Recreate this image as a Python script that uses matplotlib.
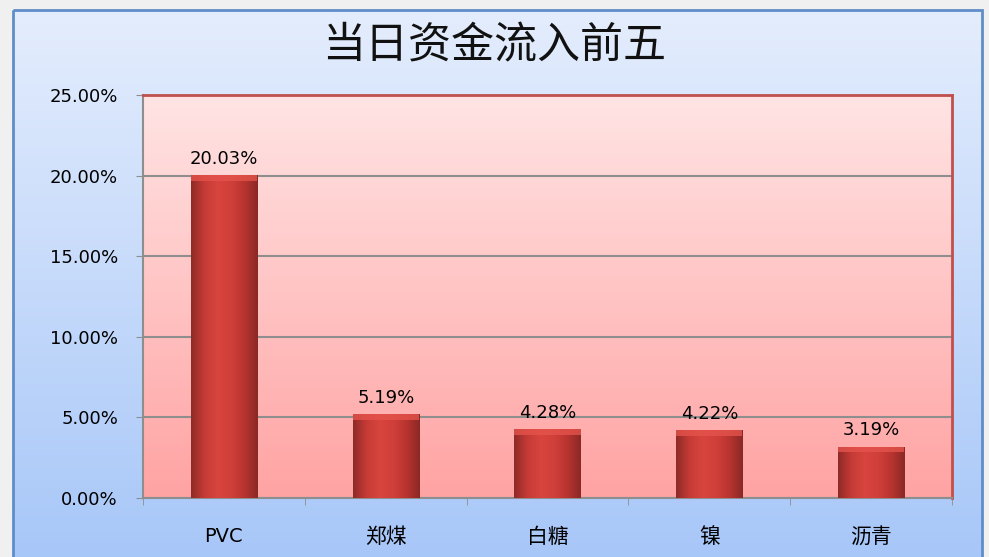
import matplotlib.pyplot as plt
import numpy as np
from matplotlib.colors import LinearSegmentedColormap
from matplotlib.patches import Rectangle

plt.rcParams['font.family'] = ['DejaVu Sans', 'Noto Sans CJK SC']

# data
categories = ['PVC', '郑煤', '白糖', '镍', '沥青']
values = [20.03, 5.19, 4.28, 4.22, 3.19]
yticks = [0, 5, 10, 15, 20, 25]
title = '当日资金流入前五'

fig = plt.figure(figsize=(9.89, 5.57), dpi=100)
fig.patch.set_facecolor('#f0f0f0')

# outer chart area with blue gradient
bg = fig.add_axes([0, 0, 1, 1], zorder=0)
bg.axis('off')
blue = LinearSegmentedColormap.from_list('blue', ['#e4edfd', '#a6c6f8'])
grad = np.linspace(0, 1, 256).reshape(-1, 1)
bg.imshow(grad, cmap=blue, extent=[13, 982, 570, 10], aspect='auto', zorder=1)
bg.add_patch(Rectangle((13, 10), 969, 560, fill=False, edgecolor='#5f8dc8', lw=2, zorder=2))
bg.set_xlim(0, 989)
bg.set_ylim(557, 0)

fig.text(0.5, 0.916, title, ha='center', va='center', fontsize=31,
         family=['Noto Sans CJK SC'], weight='medium', color='#111111')

ax = fig.add_axes([143 / 989, 1 - 498 / 557, 809 / 989, 403 / 557], zorder=2)
x = np.arange(len(categories))

pink = LinearSegmentedColormap.from_list('pink', ['#ffe4e4', '#ffa3a3'])
ax.imshow(grad, cmap=pink, extent=[-0.5, len(categories) - 0.5, 0, 25],
          aspect='auto', zorder=0)

ax.set_yticks(yticks)
ax.set_yticklabels([f'{v:.2f}%' for v in yticks], fontsize=13)
ax.yaxis.grid(True, color='#8e8e8e', lw=1.5, zorder=1)
ax.set_axisbelow(True)

ax.set_xticks(x)
ax.set_xticklabels(categories, fontsize=15)
ax.get_xticklabels()[0].set_fontsize(14)
ax.set_xticks(np.arange(-0.5, len(categories)), minor=True)
ax.tick_params(axis='x', which='major', length=0, pad=21)
ax.tick_params(axis='x', which='minor', length=5, color='#8e8e8e')
ax.tick_params(axis='y', length=5, color='#8e8e8e', pad=13)

for s in ['left', 'bottom']:
    ax.spines[s].set_color('#8e8e8e')
    ax.spines[s].set_linewidth(1.5)
for s in ['top', 'right']:
    ax.spines[s].set_color('#c0504d')
    ax.spines[s].set_linewidth(2)

bars = ax.bar(x, values, width=0.41, color='none', edgecolor='none', zorder=3)
red = LinearSegmentedColormap.from_list(
    'red', ['#8e2a27', '#c63b36', '#d8443e', '#d13f3a', '#b8342f', '#8a2825'])
hgrad = np.linspace(0, 1, 256).reshape(1, -1)
for b, v in zip(bars, values):
    x0 = b.get_x()
    w = b.get_width()
    im = ax.imshow(hgrad, cmap=red, extent=[x0, x0 + w, 0, v], aspect='auto', zorder=3)
    im.set_clip_path(b)
    ax.add_patch(Rectangle((x0, v - 0.35), w, 0.35, facecolor='#e4534c',
                           edgecolor='none', alpha=0.8, zorder=4))
    ax.text(b.get_x() + w / 2, v + 0.45, f'{v:.2f}%', ha='center', va='bottom',
            fontsize=13, zorder=5)

ax.set_xlim(-0.5, len(categories) - 0.5)
ax.set_ylim(0, 25)

fig.savefig('out.png', dpi=100, facecolor=fig.get_facecolor())
